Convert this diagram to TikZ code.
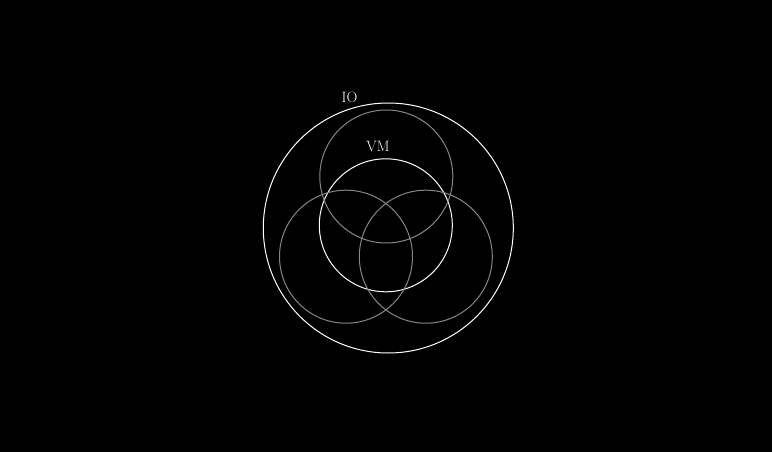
\documentclass[tikz,border=0pt]{standalone}
\usetikzlibrary{positioning}
\definecolor{bgblack}{RGB}{0,0,0}
\definecolor{ringwhite}{RGB}{255,255,255}
\definecolor{ringgray}{RGB}{135,135,135}
\tikzset{
  ring/.style={circle, draw=#1, line width=1pt, inner sep=0pt},
  setname/.style={font=\fontsize{15}{17}\selectfont, text=ringwhite, inner sep=1pt}
}

\begin{document}
\begin{tikzpicture}[x=1pt,y=-1pt]
  % Canvas, in pixel units.
  \fill[bgblack] (0,0) rectangle (772,452);
  \useasboundingbox (0,0) rectangle (772,452);

  % Outer IO set and the VM set.
  \node[ring=ringwhite, minimum size=250pt] (io) at (388.3,228) {};
  \node[ring=ringwhite, minimum size=133pt] (vm) at (385.8,225.3) {};

  % Three overlapping gray sets.
  \node[ring=ringgray, minimum size=133pt] (topset) at (386.3,176.5) {};
  \node[ring=ringgray, minimum size=133pt] (leftset) at (346,256.7) {};
  \node[ring=ringgray, minimum size=133pt] (rightset) at (425.8,256.7) {};

  % Labels.
  \node[setname] (iolabel) at (349.5,97) {IO};
  \node[setname] (vmlabel) at (378,146) {VM};
\end{tikzpicture}
\end{document}
